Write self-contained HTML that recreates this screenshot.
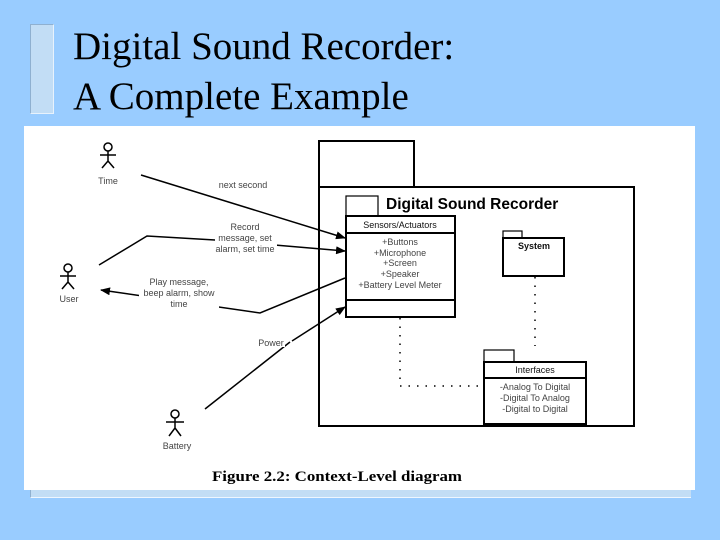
<!DOCTYPE html>
<html><head><meta charset="utf-8"><style>
html,body{margin:0;padding:0;}
body{width:720px;height:540px;background:#99ccff;position:relative;overflow:hidden;}
.t{position:absolute;left:73px;font-family:"Liberation Serif",serif;font-size:39px;color:#000;line-height:50px;white-space:nowrap;}
</style></head><body>
<div style="position:absolute;left:30px;top:24px;width:22px;height:88px;background:#c2ddf5;border:1px solid #8fb0d0;border-right-color:#e8f2fc;border-bottom-color:#e8f2fc;"></div>
<div class="t" style="top:22px;">Digital Sound Recorder:</div>
<div class="t" style="top:72px;">A Complete Example</div>
<div style="position:absolute;left:30px;top:488px;width:660px;height:9px;background:#c2ddf5;border-bottom:1px solid #eef6ff;border-left:1px solid #8fb0d0;"></div>
<svg style="position:absolute;left:0;top:0" width="720" height="540" viewBox="0 0 720 540">
<defs><marker id="a" markerWidth="10" markerHeight="8" refX="9" refY="4" orient="auto" markerUnits="userSpaceOnUse"><path d="M0,0 L10,4 L0,8z" fill="#000"/></marker></defs>
<rect x="24" y="126" width="671" height="364" fill="#fff"/>
<g font-family="Liberation Sans,sans-serif" font-size="9" fill="#444">
<g stroke="#000" stroke-width="1.5" fill="none">
<circle cx="108" cy="147" r="4"/><path d="M108,151V161M100,155H116M108,161L102,168M108,161L114,168"/>
<circle cx="68" cy="268" r="4"/><path d="M68,272V282M60,276H76M68,282L62,289M68,282L74,289"/>
<circle cx="175" cy="414" r="4"/><path d="M175,418V428M166,422H184M175,428L169,436M175,428L181,436"/>
</g>
<text x="108" y="184" text-anchor="middle">Time</text>
<text x="69" y="302" text-anchor="middle">User</text>
<text x="177" y="449" text-anchor="middle">Battery</text>
<g stroke="#000" stroke-width="1.5" fill="none">
<path d="M141,175L345,238" marker-end="url(#a)"/>
<path d="M99,265L147,236L215,240L345,251" marker-end="url(#a)"/>
<path d="M345,278L260,313L101,290" marker-end="url(#a)"/>
<path d="M205,409L290,342" /><path d="M292,341L345,307" marker-end="url(#a)"/>
</g>
<g fill="#fff"><rect x="217" y="181" width="52" height="8"/><rect x="215" y="223" width="62" height="32"/><rect x="139" y="277" width="80" height="32"/><rect x="257" y="339" width="28" height="8"/></g>
<text x="243" y="188" text-anchor="middle">next second</text>
<g text-anchor="middle"><text x="245" y="230">Record</text><text x="245" y="241">message, set</text><text x="245" y="252">alarm, set time</text></g>
<g text-anchor="middle"><text x="179" y="285">Play message,</text><text x="179" y="296">beep alarm, show</text><text x="179" y="307">time</text></g>
<text x="271" y="346" text-anchor="middle">Power</text>
<g stroke="#000" stroke-width="2" fill="none">
<rect x="319" y="141" width="95" height="46"/>
<rect x="319" y="187" width="315" height="239"/>
<rect x="346" y="196" width="32" height="20" stroke-width="1.2"/>
<rect x="346" y="216" width="109" height="101"/>
<path d="M346,233H455M346,300H455"/>
<rect x="503" y="231" width="19" height="7" stroke-width="1.2"/>
<rect x="503" y="238" width="61" height="38"/>
<rect x="484" y="350" width="30" height="12" stroke-width="1.2"/>
<rect x="484" y="362" width="102" height="62"/>
<path d="M484,378H586"/>
</g>
<g stroke="#000" stroke-width="1.5" fill="none" stroke-dasharray="1.5,7">
<path d="M400,318V386H478"/><path d="M535,277V346"/>
</g>
<text x="386" y="209" font-size="15.5" font-weight="bold" fill="#000">Digital Sound Recorder</text>
<text x="400" y="228" text-anchor="middle" fill="#111">Sensors/Actuators</text>
<g text-anchor="middle"><text x="400" y="245">+Buttons</text><text x="400" y="256">+Microphone</text><text x="400" y="266">+Screen</text><text x="400" y="277">+Speaker</text><text x="400" y="288">+Battery Level Meter</text></g>
<text x="534" y="249" text-anchor="middle" font-weight="bold" fill="#111">System</text>
<text x="535" y="373" text-anchor="middle" fill="#111">Interfaces</text>
<g text-anchor="middle"><text x="535" y="390">-Analog To Digital</text><text x="535" y="401">-Digital To Analog</text><text x="535" y="412">-Digital to Digital</text></g>
</g>
<text x="337" y="481" text-anchor="middle" font-family="Liberation Serif,serif" font-weight="bold" font-size="15" fill="#000" textLength="250" lengthAdjust="spacingAndGlyphs">Figure 2.2: Context-Level diagram</text>
</svg>
</body></html>
